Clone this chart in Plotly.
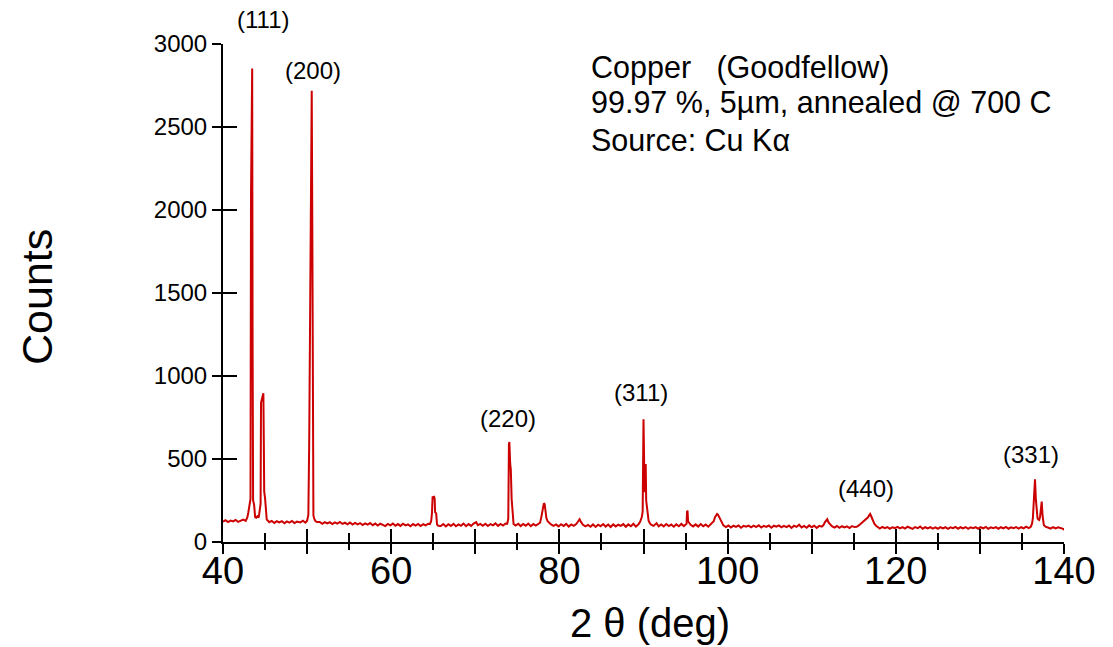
import plotly.graph_objects as go

# X-ray diffraction scan of annealed copper foil (2-theta in degrees, detector counts)
two_theta = [
    40.0, 40.3, 40.6, 40.9, 41.2, 41.5, 41.8, 42.1, 42.4, 42.7,
    42.9, 43.0, 43.15, 43.27, 43.33, 43.47, 43.52, 43.58, 43.7, 43.82, 43.95, 44.1, 44.25,
    44.3, 44.4, 44.47, 44.52, 44.7, 44.8, 44.86, 44.9, 45.0, 45.1, 45.2, 45.35,
    45.5, 45.8, 46.1, 46.4, 46.7, 47.0, 47.3, 47.6, 47.9, 48.2, 48.5, 48.8, 49.2, 49.5, 49.8, 50.0,
    50.15, 50.25, 50.35, 50.45, 50.55, 50.62, 50.68, 50.75, 50.85, 51.0, 51.2,
    51.5, 51.8, 52.1, 52.4, 52.7, 53.0, 53.3, 53.6, 53.9, 54.2, 54.5, 54.8, 55.1, 55.4, 55.7,
    56.0, 56.3, 56.6, 56.9, 57.2, 57.5, 57.8, 58.1, 58.4, 58.7, 59.0, 59.3, 59.6, 59.9,
    60.2, 60.5, 60.8, 61.1, 61.4, 61.7, 62.0, 62.3, 62.6, 62.9, 63.2, 63.5, 63.8, 64.1, 64.4,
    64.6, 64.75, 64.85, 64.92, 65.1, 65.17, 65.22, 65.35, 65.45, 65.6,
    65.9, 66.2, 66.5, 66.8, 67.1, 67.4, 67.7, 68.0, 68.3, 68.6, 68.9, 69.2, 69.5, 69.8,
    70.1, 70.3, 70.6, 70.9, 71.2, 71.5, 71.8, 72.1, 72.4, 72.7, 73.0, 73.3, 73.6,
    73.8, 73.92, 74.0, 74.05, 74.15, 74.22, 74.32, 74.42, 74.55,
    74.8, 75.1, 75.4, 75.7, 76.0, 76.3, 76.6, 76.9, 77.2, 77.5,
    77.7, 77.85, 77.95, 78.05, 78.15, 78.25, 78.35, 78.45, 78.6, 78.8, 79.0,
    79.3, 79.6, 79.9, 80.2, 80.5, 80.8, 81.1, 81.4, 81.7, 82.0, 82.2, 82.4, 82.6, 82.8,
    83.1, 83.4, 83.7, 84.0, 84.3, 84.6, 84.9, 85.2, 85.5, 85.8, 86.1, 86.4, 86.7, 87.0,
    87.3, 87.6, 87.9, 88.2, 88.5, 88.8, 89.1, 89.4,
    89.6, 89.8, 89.9, 89.95, 90.0, 90.07, 90.12, 90.2, 90.26, 90.32, 90.45, 90.6, 90.75, 90.9,
    91.2, 91.55, 91.8, 92.1, 92.4, 92.7, 93.0, 93.3, 93.6, 93.9, 94.2, 94.5, 94.8, 95.0,
    95.12, 95.18, 95.24, 95.3, 95.45, 95.6,
    95.9, 96.2, 96.5, 96.8, 97.1, 97.4, 97.7, 98.0,
    98.2, 98.35, 98.5, 98.65, 98.75, 98.85, 99.0, 99.15, 99.3, 99.5,
    99.8, 100.1, 100.4, 100.7, 101.0, 101.3, 101.6, 101.9, 102.2, 102.5, 102.8, 103.1,
    103.4, 103.7, 104.0, 104.3, 104.6, 104.9, 105.2, 105.5, 105.8, 106.1, 106.4, 106.7,
    107.0, 107.3, 107.6, 107.9, 108.2, 108.5, 108.8, 109.1, 109.4, 109.7, 110.0, 110.3,
    110.6, 110.9, 111.2,
    111.4, 111.6, 111.75, 111.85, 112.0, 112.15, 112.4,
    112.7, 113.0, 113.3, 113.6, 113.9, 114.2, 114.5, 114.8, 115.1,
    115.35, 115.6, 115.9, 116.1, 116.3, 116.5, 116.7, 116.85, 116.95, 117.05, 117.15,
    117.3, 117.45, 117.65, 117.85,
    118.1, 118.4, 118.7, 119.0, 119.3, 119.6, 119.9, 120.2, 120.5, 120.8, 121.1, 121.4,
    121.7, 122.0, 122.3, 122.6, 122.9, 123.2, 123.5, 123.8, 124.1, 124.4, 124.7, 125.0,
    125.3, 125.6, 125.9, 126.2, 126.5, 126.8, 127.1, 127.4, 127.7, 128.0, 128.3, 128.6,
    128.9, 129.2, 129.5, 129.8, 130.1, 130.4, 130.7, 131.0, 131.3, 131.6, 131.9, 132.2,
    132.5, 132.8, 133.1, 133.4, 133.7, 134.0, 134.3, 134.6, 134.9, 135.2, 135.5, 135.8, 136.05,
    136.2, 136.3, 136.45, 136.55, 136.65, 136.75, 136.85, 136.95, 137.05, 137.15, 137.25,
    137.35, 137.45, 137.6, 137.8, 138.1,
    138.4, 138.7, 139.0, 139.3, 139.6, 139.9, 140.0,
]
counts = [
    122, 131, 120, 129, 124, 133, 121, 128, 135, 127,
    150, 175, 215, 260, 2100, 2853, 1200, 250, 225, 150, 146, 155, 148,
    165, 212, 230, 840, 870, 896, 560, 303, 265, 180, 135, 128,
    119, 127, 115, 125, 118, 126, 113, 124, 117, 127, 114, 123, 118, 128, 116, 128,
    163, 600, 1400, 2300, 2719, 1900, 900, 160, 140, 125, 120,
    121, 110, 120, 112, 119, 108, 118, 111, 121, 109, 116, 107, 117, 105, 115,
    106, 114, 102, 112, 105, 114, 101, 111, 99, 110, 103, 96, 109, 100,
    111, 98, 108, 97, 110, 100, 106, 95, 108, 99, 109, 96, 107, 100, 110,
    108, 125, 175, 270, 273, 260, 180, 172, 105, 98,
    96, 108, 94, 107, 97, 110, 95, 106, 98, 111, 95, 108, 97, 111,
    120, 101, 109, 98, 110, 96, 108, 100, 112, 97, 109, 99, 111,
    110, 140, 590, 602, 470, 440, 260, 160, 108,
    99, 110, 96, 109, 98, 111, 95, 108, 99, 112,
    116, 150, 180, 215, 233, 228, 175, 145, 125, 112, 106,
    97, 106, 94, 107, 96, 109, 93, 106, 97, 108, 122, 137, 118, 104,
    94, 103, 92, 106, 91, 104, 95, 108, 93, 105, 90, 106, 94, 104,
    97, 108, 92, 106, 95, 110, 93, 106,
    122, 150, 183, 500, 739, 500, 300, 350, 470, 250, 173, 130, 113, 105,
    97, 113, 95, 106, 94, 108, 96, 105, 92, 107, 95, 109, 96, 106,
    110, 187, 185, 125, 112, 104,
    94, 106, 93, 108, 95, 105, 92, 107,
    112, 125, 150, 162, 169, 165, 150, 128, 112, 100,
    90, 99, 87, 98, 91, 100, 86, 97, 92, 99, 88, 98,
    90, 101, 87, 97, 91, 99, 86, 98, 92, 100, 88, 97,
    90, 99, 85, 98, 91, 104, 88, 97, 86, 100, 89, 98,
    85, 97, 92,
    102, 122, 135, 137, 118, 108, 95,
    87, 96, 85, 95, 88, 94, 84, 96, 90,
    92, 100, 112, 120, 132, 138, 149, 162, 169, 158, 143,
    125, 110, 98, 92,
    81, 91, 83, 90, 80, 89, 84, 91, 82, 90, 81, 92,
    84, 79, 90, 83, 93, 80, 89, 82, 90, 81, 88, 80,
    90, 82, 89, 79, 88, 83, 91, 80, 89, 82, 90, 79,
    88, 83, 90, 80, 89, 82, 91, 79, 88, 83, 90, 80,
    89, 82, 91, 80, 88, 83, 90, 81, 89, 82, 92, 84, 92,
    110, 143, 250, 378, 260, 160, 143, 135, 132, 150, 200,
    243, 160, 102, 92, 88,
    81, 90, 82, 89, 83, 79, 72,
]

# Miller-index labels placed above the reflections (y given in counts)
peak_labels = ["(111)", "(200)", "(220)", "(311)", "(440)", "(331)"]
label_x = [44.76, 50.70, 73.83, 89.70, 116.46, 136.08]
label_y = [3150, 2843, 745, 898, 320, 525]

# Sample description block
info_lines = [
    "Copper   (Goodfellow)",
    "99.97 %, 5µm, annealed @ 700 C",
    "Source: Cu Kα",
]
info_x = 83.5
info_y = [2858, 2645, 2424]

x_range = [40, 140]
y_range = [0, 3000]
x_major = [40, 50, 60, 70, 80, 90, 100, 110, 120, 130, 140]
x_major_text = ["40", "", "60", "", "80", "", "100", "", "120", "", "140"]
y_major = [0, 500, 1000, 1500, 2000, 2500, 3000]

FONT = "Liberation Sans, Arial, Helvetica, sans-serif"
RED = "#cc0000"

fig = go.Figure()
fig.add_trace(go.Scatter(
    x=two_theta, y=counts, mode="lines",
    line=dict(color=RED, width=2), showlegend=False, hoverinfo="x+y",
))
# empty trace that carries the second axis pair (inner halves of the ticks)
fig.add_trace(go.Scatter(x=[], y=[], xaxis="x2", yaxis="y2", showlegend=False,
                         hoverinfo="skip"))

# labels use paper y so the one above the frame is not hidden
for txt, xv, yv in zip(peak_labels, label_x, label_y):
    fig.add_annotation(x=xv, y=yv / y_range[1], text=txt, showarrow=False,
                       xref="x", yref="paper", yanchor="middle",
                       font=dict(family=FONT, size=24, color="black"))
for txt, yv in zip(info_lines, info_y):
    fig.add_annotation(x=info_x, y=yv, text=txt, showarrow=False, xref="x", yref="y",
                       xanchor="left", yanchor="middle",
                       font=dict(family=FONT, size=30.5, color="black"))

# axis titles
fig.add_annotation(x=0.5077, y=-0.163, xref="paper", yref="paper", text="2 θ (deg)",
                   showarrow=False, xanchor="center", yanchor="middle",
                   font=dict(family=FONT, size=40, color="black"))
fig.add_annotation(x=-0.2212, y=0.492, xref="paper", yref="paper", text="Counts",
                   showarrow=False, textangle=-90, xanchor="center", yanchor="middle",
                   font=dict(family=FONT, size=43, color="black"))

fig.update_layout(
    width=1113, height=647,
    margin=dict(l=223, r=49, t=44, b=105),
    paper_bgcolor="white", plot_bgcolor="white",
    font=dict(family=FONT, color="black"),
    # outer halves of the x ticks
    xaxis=dict(
        range=x_range, showgrid=False, zeroline=False, automargin=False,
        showline=True, linecolor="black", linewidth=2,
        tickmode="array", tickvals=x_major, showticklabels=False,
        ticks="outside", ticklen=10, tickwidth=2, tickcolor="black",
        minor=dict(tickmode="linear", tick0=40, dtick=5, ticks="outside",
                   ticklen=6, tickwidth=2, tickcolor="black", showgrid=False),
    ),
    yaxis=dict(
        range=y_range, showgrid=False, zeroline=False, automargin=False,
        showline=True, linecolor="black", linewidth=2,
        tickmode="array", tickvals=y_major,
        ticks="outside", ticklen=9, tickwidth=2, tickcolor="black",
        tickfont=dict(family=FONT, size=24, color="black"),
    ),
    # inner halves of the x ticks, carrying the tick labels
    xaxis2=dict(
        range=x_range, overlaying="x", anchor="y2", side="bottom", automargin=False,
        showgrid=False, zeroline=False, showline=False,
        tickmode="array", tickvals=x_major, ticktext=x_major_text,
        tickfont=dict(family=FONT, size=38, color="black"),
        ticklabelstandoff=3,
        ticks="inside", ticklen=13, tickwidth=2, tickcolor="black",
        minor=dict(tickmode="linear", tick0=40, dtick=5, ticks="inside",
                   ticklen=9, tickwidth=2, tickcolor="black", showgrid=False),
    ),
    yaxis2=dict(
        range=y_range, overlaying="y", anchor="x2", side="left", automargin=False,
        showgrid=False, zeroline=False, showline=False, showticklabels=False,
        tickmode="array", tickvals=y_major,
        ticks="inside", ticklen=14, tickwidth=2, tickcolor="black",
    ),
)

fig.write_html("out.html")
